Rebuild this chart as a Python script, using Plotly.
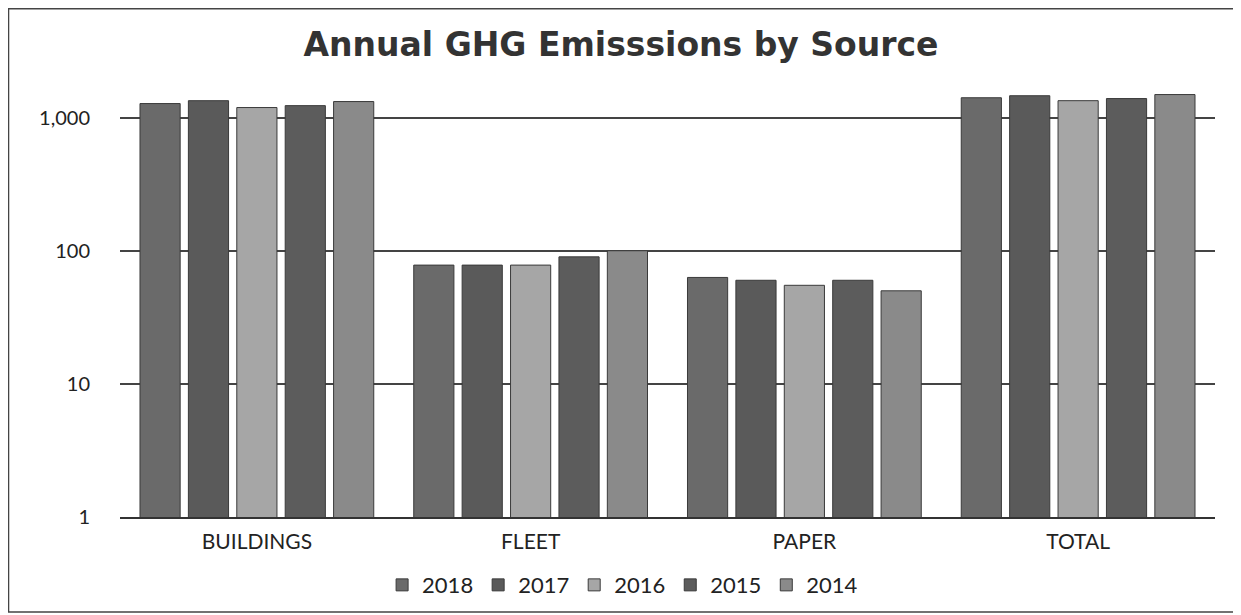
import plotly.graph_objects as go

categories = ["BUILDINGS", "FLEET", "PAPER", "TOTAL"]
years = ["2018", "2017", "2016", "2015", "2014"]
v2018 = [1275, 78, 63, 1410]
v2017 = [1340, 78, 60, 1460]
v2016 = [1190, 78, 55, 1340]
v2015 = [1230, 90, 60, 1390]
v2014 = [1320, 100, 50, 1490]
series = [v2018, v2017, v2016, v2015, v2014]
colors = ["#6a6a6a", "#5a5a5a", "#a6a6a6", "#5c5c5c", "#8a8a8a"]
tick_vals = [1, 10, 100, 1000]
tick_text = ["1", "10", "100", "1,000"]

fig = go.Figure()
for yr, vals, col in zip(years, series, colors):
    fig.add_trace(go.Bar(
        name=yr, x=categories, y=vals,
        marker=dict(color=col, line=dict(color="#3a3a3a", width=1)),
    ))

fig.update_layout(
    width=1241, height=615,
    paper_bgcolor="white", plot_bgcolor="white",
    barmode="group", bargap=0.116, bargroupgap=0.17,
    margin=dict(l=112, r=34, t=67, b=106),
    title=dict(text="<b>Annual GHG Emisssions by Source</b>", x=0.494, xref="container",
               xanchor="center", y=0.941, yanchor="middle",
               font=dict(family="DejaVu Sans", size=33, color="#333333")),
    font=dict(family="Lato", color="#222222"),
    legend=dict(orientation="h", x=0.459, xanchor="center", y=-0.154, yanchor="middle",
                font=dict(size=22, color="#222222"), itemwidth=30, traceorder="normal"),
    showlegend=True,
)
fig.update_yaxes(type="log", range=[0, 3.32], tickvals=tick_vals, ticktext=tick_text,
                 showgrid=True, gridcolor="#444444", gridwidth=1.5,
                 zeroline=False, showline=False, ticks="outside", ticklen=25,
                 tickcolor="rgba(0,0,0,0)", tickfont=dict(size=20, color="#222222"))
fig.update_xaxes(showline=True, linecolor="#333333", linewidth=2, ticks="outside",
                 ticklen=5, tickcolor="rgba(0,0,0,0)",
                 tickfont=dict(size=21, color="#222222"))
fig.add_shape(type="rect", xref="paper", yref="paper",
              x0=-0.1018, x1=1.0219, y0=-0.215, y1=1.150,
              line=dict(color="#444444", width=1.5))

fig.write_html("out.html")
